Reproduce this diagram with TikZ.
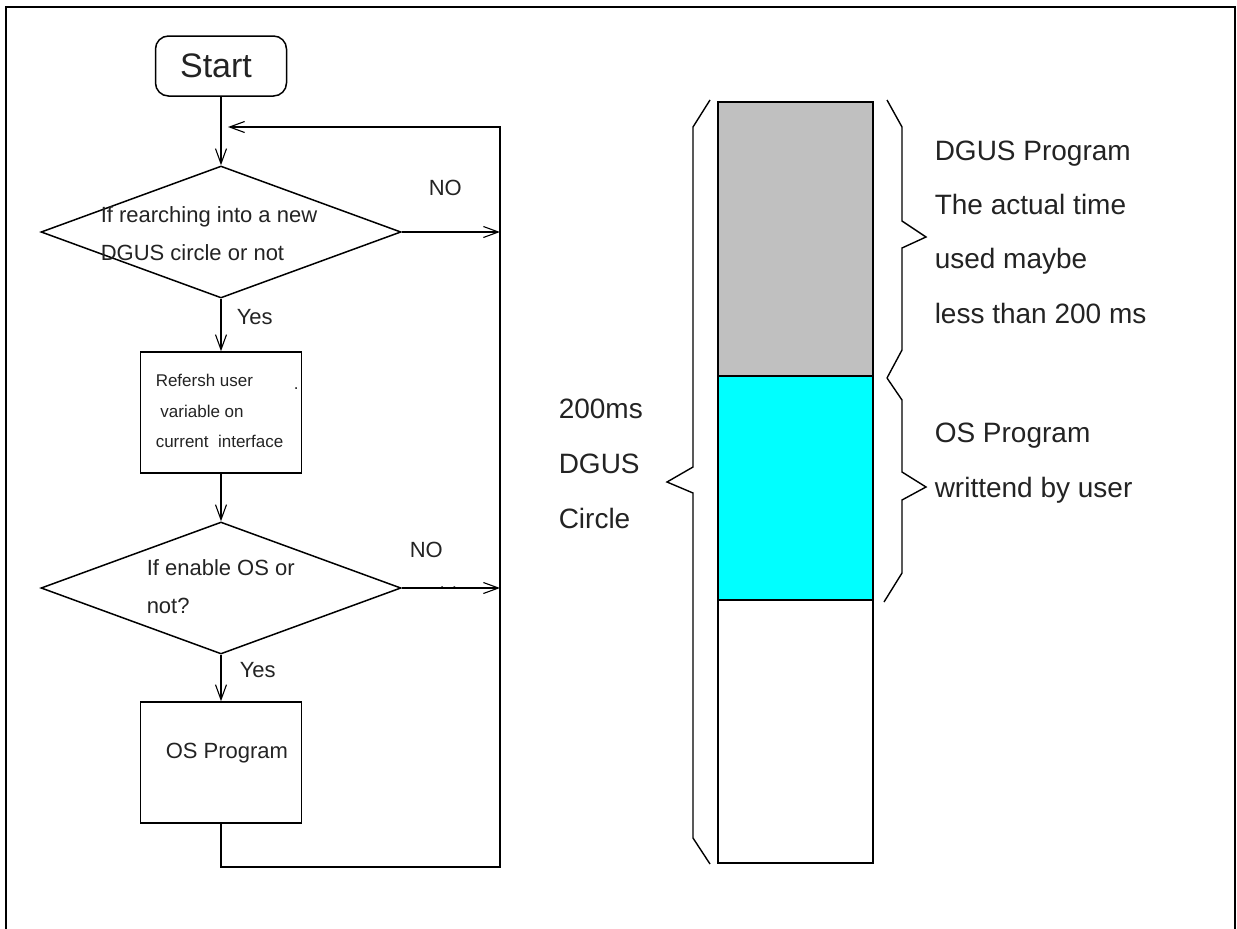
\documentclass[tikz,border=0pt]{standalone}
\usepackage{fontspec}
\setmainfont{Liberation Sans}
\usetikzlibrary{shapes.geometric,arrows.meta}
\definecolor{txt}{RGB}{35,35,35}
\definecolor{grayfill}{RGB}{192,192,192}
\definecolor{cyanfill}{RGB}{0,255,255}
\newcommand{\fsz}[1]{\fontsize{#1}{#1}\selectfont}
\begin{document}
\begin{tikzpicture}[x=1pt,y=-1pt,
  line width=1.5pt,
  startbox/.style={draw, rounded corners=13pt, minimum width=131pt, minimum height=60pt, inner sep=0pt},
  decision/.style={draw, diamond, minimum width=360pt, minimum height=132pt, inner sep=0pt},
  procbox/.style={draw, rectangle, minimum width=161pt, minimum height=121pt, inner sep=0pt},
  seg/.style={draw, rectangle, minimum width=155pt, inner sep=0pt, line width=1.6pt},
  flowarrow/.style={-{Straight Barb[length=15pt,width=11pt,line width=1.1pt]}},
  lbl/.style={text=txt, inner sep=0pt, anchor=base west, font=\fsz{22}},
  small/.style={text=txt, inner sep=0pt, anchor=base west, font=\fsz{17}},
  big/.style={text=txt, inner sep=0pt, anchor=base west, font=\fsz{28}},
  brace/.style={draw, line width=1.4pt, line join=miter}
]
\useasboundingbox (0,0) rectangle (1237,929);
% frame
\draw[line width=2pt] (6,929) -- (6,7) -- (1235,7) -- (1235,929);

% flowchart nodes
\node[startbox] (start) at (221,66) {};
\node[text=txt, font=\fsz{34}, anchor=base] (starttxt) at (216,77) {Start};
\node[decision] (d1) at (221,232) {};
\node[procbox] (b1) at (221,412.5) {};
\node[decision] (d2) at (221,588) {};
\node[procbox] (b2) at (221,762.5) {};

% texts in flowchart
\node[lbl] (d1a) at (100,222) {If rearching into a new};
\node[lbl] (d1b) at (100,260) {DGUS circle or not};
\node[small] (b1a) at (155,386) {Refersh user};
\node[small] (b1b) at (155,417) {\ variable on};
\node[small] (b1c) at (155,447) {current\ \ interface};
\node[small] (b1dot) at (293,389) {.};
\node[lbl] (d2a) at (146,575) {If enable OS or};
\node[lbl] (d2b) at (146,613) {not?};
\node[lbl] (b2a) at (165,758) {OS Program};
\node[lbl] (yes1) at (236,324) {Yes};
\node[lbl] (yes2) at (239,677) {Yes};
\node[lbl] (no1) at (428,195) {NO};
\node[lbl] (no2) at (409,557) {NO};
\node[small] (dots) at (439,588) {.\ \,.};

% loop coordinates
\coordinate (rt) at (500,127);
\coordinate (rb) at (500,867);
\coordinate (loopend) at (228,127);

% connectors
\draw[flowarrow] (start.south) -- (d1.north);
\draw[flowarrow] (d1.south) -- (b1.north);
\draw[flowarrow] (b1.south) -- (d2.north);
\draw[flowarrow] (d2.south) -- (b2.north);
\draw[flowarrow] (d1.east) -- (d1.east -| rt);
\draw[flowarrow] (d2.east) -- (d2.east -| rt);
\draw[flowarrow] (b2.south) |- (rb) -- (rt) -- (loopend);

% time bar
\node[seg, fill=grayfill, minimum height=274pt] (gray) at (795.5,239) {};
\node[seg, fill=cyanfill, minimum height=224pt] (cyan) at (795.5,488) {};
\node[seg, fill=white, minimum height=263pt] (white) at (795.5,731.5) {};

% braces
\draw[brace] (710,100) -- (693,127) -- (693,467) -- (667,482) -- (693,493) -- (693,838) -- (710,864);
\draw[brace] (887,100) -- (902,127) -- (902,221) -- (926,237) -- (902,248) -- (902,350) -- (887,378);
\draw[brace] (887,378) -- (902,400) -- (902,472) -- (926,487) -- (902,500) -- (902,573) -- (884,602);

% right texts
\node[big] (r1) at (934,160) {DGUS Program};
\node[big] (r2) at (934,214) {The actual time};
\node[big] (r3) at (934,268) {used maybe};
\node[big] (r4) at (934,323) {less than 200 ms};
\node[big] (r5) at (934,442) {OS Program};
\node[big] (r6) at (934,497) {writtend by user};
\node[big] (l1) at (558,418) {200ms};
\node[big] (l2) at (558,473) {DGUS};
\node[big] (l3) at (558,528) {Circle};
\end{tikzpicture}
\end{document}
